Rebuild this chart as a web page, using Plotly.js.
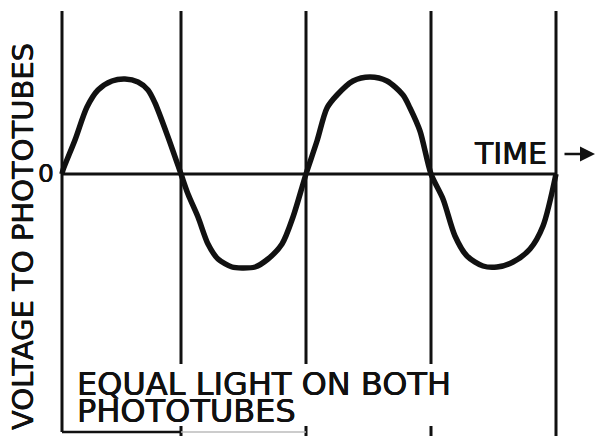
<!DOCTYPE html>
<html>
<head>
<meta charset="utf-8">
<script src="https://cdn.plot.ly/plotly-3.0.1.min.js"></script>
<style>
  html, body { margin: 0; padding: 0; background: #fff; }
  #chart { width: 596px; height: 436px; }
</style>
</head>
<body>
<div id="chart"></div>
<script>
// Time (arbitrary units) and voltage (arbitrary units)
const waveTime = [0, 0.1, 1.3, 2.5, 3.6, 5.0, 6.3, 7.6, 8.6, 9.3, 10.6, 11.9,
  12.6, 13.6, 14.6, 15.6, 17.0, 18.0, 19.3, 20.6, 22.0, 23.1, 24.1, 24.4,
  25.5, 26.5, 27.5, 29.1, 30.8, 32.5, 34.1, 34.8, 35.8, 36.9,
  38.1, 39.3, 40.5, 42.1, 43.5, 45.1, 46.8, 48.1, 49.4];
const waveVoltage = [0, 0.4, 3.4, 6.7, 8.4, 9.3, 9.5, 9.2, 8.4, 7.1, 3.7, 0,
  -2.0, -4.3, -7.0, -8.5, -9.3, -9.4, -9.3, -8.5, -7.0, -4.3, -1.0, 0,
  3.3, 6.6, 7.9, 9.3, 9.7, 9.3, 7.9, 6.6, 4.3, 0,
  -2.5, -6.2, -8.2, -9.2, -9.3, -8.8, -7.5, -5.2, 0];

// zero crossings where the vertical reference lines are drawn
const crossingTimes = [0, 11.9, 24.4, 36.9, 49.4];

const axisLabel = "VOLTAGE TO PHOTOTUBES";
const zeroLabel = "0";
const timeLabel = "TIME";
const noteLines = ["EQUAL LIGHT ON BOTH", "PHOTOTUBES"];

const INK = "#111";
const lineTop = 16.3, lineBottom = -26.4, breakTop = -19.0, breakBottom = -25.2, baseY = -25.8;

// vertical reference lines (inner ones are broken around the note)
const vx = [], vy = [];
crossingTimes.forEach((t, i) => {
  const inner = i > 0 && i < crossingTimes.length - 1;
  if (inner) {
    vx.push(t, t, null, t, t, null);
    vy.push(lineTop, breakTop, null, breakBottom, lineBottom, null);
  } else {
    vx.push(t, t, null);
    vy.push(lineTop, i === 0 ? baseY : lineBottom, null);
  }
});

const traces = [
  { x: vx, y: vy, mode: "lines", line: { color: INK, width: 3 }, hoverinfo: "skip" },
  { x: [crossingTimes[0], crossingTimes[crossingTimes.length - 1]], y: [0, 0],
    mode: "lines", line: { color: INK, width: 3 }, hoverinfo: "skip" },
  { x: [crossingTimes[0], crossingTimes[1]], y: [baseY, baseY],
    mode: "lines", line: { color: INK, width: 2.5 }, hoverinfo: "skip" },
  { x: [crossingTimes[1], crossingTimes[2]], y: [baseY, baseY],
    mode: "lines", line: { color: "#bbb", width: 1.5 }, hoverinfo: "skip" },
  { x: waveTime, y: waveVoltage, mode: "lines",
    line: { color: INK, width: 5.5, shape: "spline", smoothing: 0.8 }, hoverinfo: "skip" }
];

const W = 596, H = 436;
const px = v => v / W, py = v => 1 - v / H;
const font = (s) => ({ family: "DejaVu Sans, sans-serif", size: s, color: INK,
  shadow: "0.35px 0 0 #111, -0.35px 0 0 #111" });

const layout = {
  width: W, height: H,
  margin: { l: 0, r: 0, t: 0, b: 0 },
  paper_bgcolor: "#fff", plot_bgcolor: "#fff",
  showlegend: false,
  xaxis: { range: [-6.2, 53.4], visible: false, fixedrange: true },
  yaxis: { range: [-26.2, 17.4], visible: false, fixedrange: true },
  annotations: [
    { xref: "paper", yref: "paper", x: px(23), y: py(237), text: axisLabel, textangle: -90,
      showarrow: false, font: font(29), xanchor: "center", yanchor: "middle" },
    { xref: "paper", yref: "paper", x: px(46), y: py(174), text: zeroLabel,
      showarrow: false, font: font(25), xanchor: "center", yanchor: "middle" },
    { xref: "paper", yref: "paper", x: px(510), y: py(153), text: timeLabel,
      showarrow: false, font: font(30), xanchor: "center", yanchor: "middle" },
    { xref: "paper", yref: "paper", x: px(595), y: py(154), ax: -32, ay: 0, text: "",
      showarrow: true, arrowhead: 2, arrowsize: 1.2, arrowwidth: 2.5, arrowcolor: INK },
    { xref: "paper", yref: "paper", x: px(75), y: py(384), text: noteLines[0],
      showarrow: false, font: font(32), xanchor: "left", yanchor: "middle" },
    { xref: "paper", yref: "paper", x: px(75), y: py(411), text: noteLines[1],
      showarrow: false, font: font(32), xanchor: "left", yanchor: "middle" }
  ]
};

Plotly.newPlot("chart", traces, layout, { staticPlot: true, displayModeBar: false });
</script>
</body>
</html>
